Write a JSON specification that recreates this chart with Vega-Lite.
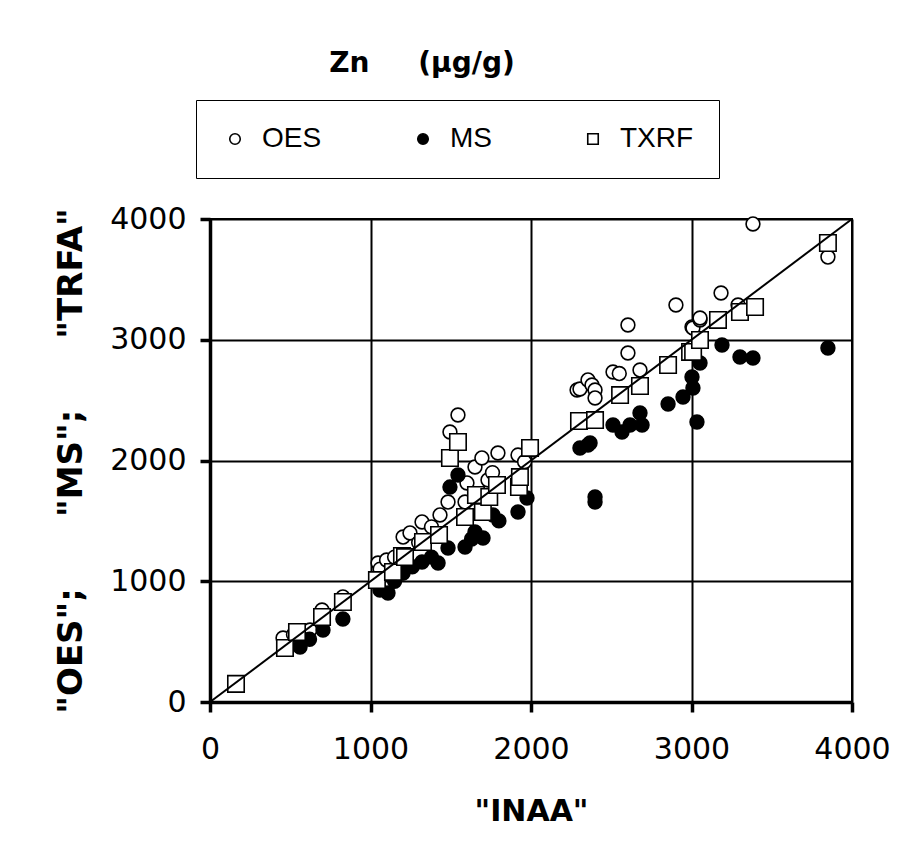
{
  "$schema": "https://vega.github.io/schema/vega-lite/v6.json",
  "width": 642,
  "height": 483,
  "autosize": {"type": "none"},
  "padding": {"left": 210, "top": 219, "right": 55, "bottom": 150},
  "background": "white",
  "title": {
    "text": "Zn\u00a0\u00a0\u00a0\u00a0\u00a0(µg/g)",
    "font": "DejaVu Sans",
    "fontSize": 28,
    "fontWeight": "bold",
    "color": "black",
    "anchor": "middle",
    "frame": "group",
    "dx": -109,
    "offset": 22
  },
  "config": {
    "view": {"stroke": "black", "strokeWidth": 2},
    "axis": {
      "domainColor": "black",
      "domainWidth": 3.5,
      "gridColor": "black",
      "gridWidth": 2,
      "gridOpacity": 1,
      "tickColor": "black",
      "tickWidth": 3.5,
      "tickSize": 10,
      "labelFont": "DejaVu Sans",
      "labelFontSize": 30,
      "labelColor": "black",
      "titleFont": "DejaVu Sans",
      "titleFontSize": 30,
      "titleFontWeight": "bold",
      "titleColor": "black"
    },
    "legend": {
      "orient": "none",
      "legendX": -14,
      "legendY": -119,
      "direction": "horizontal",
      "columns": 3,
      "gridAlign": "each",
      "columnPadding": 87,
      "padding": 25,
      "strokeColor": "black",
      "fillColor": "white",
      "labelFont": "Liberation Sans",
      "labelFontSize": 28,
      "labelColor": "black",
      "labelOffset": 13,
      "symbolSize": 110,
      "symbolStrokeColor": "black",
      "symbolStrokeWidth": 1.6,
      "symbolOpacity": 1
    }
  },
  "data": {
    "values": [
      {"m": "OES", "x": 455, "y": 530},
      {"m": "OES", "x": 520, "y": 560},
      {"m": "OES", "x": 560, "y": 540},
      {"m": "OES", "x": 623, "y": 596},
      {"m": "OES", "x": 698, "y": 762},
      {"m": "OES", "x": 828, "y": 870},
      {"m": "OES", "x": 1047, "y": 1151},
      {"m": "OES", "x": 1060, "y": 1100},
      {"m": "OES", "x": 1100, "y": 1176},
      {"m": "OES", "x": 1150, "y": 1200},
      {"m": "OES", "x": 1203, "y": 1366},
      {"m": "OES", "x": 1246, "y": 1400},
      {"m": "OES", "x": 1300, "y": 1320},
      {"m": "OES", "x": 1321, "y": 1491},
      {"m": "OES", "x": 1380, "y": 1450},
      {"m": "OES", "x": 1433, "y": 1549},
      {"m": "OES", "x": 1483, "y": 1656},
      {"m": "OES", "x": 1495, "y": 2236},
      {"m": "OES", "x": 1545, "y": 2377},
      {"m": "OES", "x": 1589, "y": 1656},
      {"m": "OES", "x": 1601, "y": 1814},
      {"m": "OES", "x": 1651, "y": 1946},
      {"m": "OES", "x": 1694, "y": 2021},
      {"m": "OES", "x": 1732, "y": 1839},
      {"m": "OES", "x": 1760, "y": 1900},
      {"m": "OES", "x": 1794, "y": 2062},
      {"m": "OES", "x": 1919, "y": 2045},
      {"m": "OES", "x": 1960, "y": 1990},
      {"m": "OES", "x": 2287, "y": 2584},
      {"m": "OES", "x": 2305, "y": 2592},
      {"m": "OES", "x": 2355, "y": 2667},
      {"m": "OES", "x": 2380, "y": 2625},
      {"m": "OES", "x": 2399, "y": 2584},
      {"m": "OES", "x": 2399, "y": 2518},
      {"m": "OES", "x": 2511, "y": 2733},
      {"m": "OES", "x": 2550, "y": 2720},
      {"m": "OES", "x": 2604, "y": 3122},
      {"m": "OES", "x": 2604, "y": 2890},
      {"m": "OES", "x": 2679, "y": 2749},
      {"m": "OES", "x": 2903, "y": 3288},
      {"m": "OES", "x": 3003, "y": 3106},
      {"m": "OES", "x": 3009, "y": 3097},
      {"m": "OES", "x": 3053, "y": 3164},
      {"m": "OES", "x": 3053, "y": 3180},
      {"m": "OES", "x": 3184, "y": 3387},
      {"m": "OES", "x": 3290, "y": 3288},
      {"m": "OES", "x": 3383, "y": 3959},
      {"m": "OES", "x": 3850, "y": 3685},
      {"m": "MS", "x": 561, "y": 455},
      {"m": "MS", "x": 620, "y": 520},
      {"m": "MS", "x": 704, "y": 596},
      {"m": "MS", "x": 828, "y": 687},
      {"m": "MS", "x": 1059, "y": 928},
      {"m": "MS", "x": 1109, "y": 903},
      {"m": "MS", "x": 1150, "y": 1000},
      {"m": "MS", "x": 1196, "y": 1068},
      {"m": "MS", "x": 1203, "y": 1068},
      {"m": "MS", "x": 1260, "y": 1120},
      {"m": "MS", "x": 1321, "y": 1159},
      {"m": "MS", "x": 1380, "y": 1200},
      {"m": "MS", "x": 1421, "y": 1151},
      {"m": "MS", "x": 1483, "y": 1275},
      {"m": "MS", "x": 1495, "y": 1780},
      {"m": "MS", "x": 1545, "y": 1880},
      {"m": "MS", "x": 1589, "y": 1284},
      {"m": "MS", "x": 1630, "y": 1350},
      {"m": "MS", "x": 1651, "y": 1408},
      {"m": "MS", "x": 1701, "y": 1358},
      {"m": "MS", "x": 1763, "y": 1549},
      {"m": "MS", "x": 1800, "y": 1500},
      {"m": "MS", "x": 1919, "y": 1573},
      {"m": "MS", "x": 1975, "y": 1689},
      {"m": "MS", "x": 2305, "y": 2104},
      {"m": "MS", "x": 2355, "y": 2128},
      {"m": "MS", "x": 2368, "y": 2145},
      {"m": "MS", "x": 2399, "y": 1698},
      {"m": "MS", "x": 2399, "y": 1656},
      {"m": "MS", "x": 2511, "y": 2294},
      {"m": "MS", "x": 2567, "y": 2236},
      {"m": "MS", "x": 2617, "y": 2294},
      {"m": "MS", "x": 2679, "y": 2393},
      {"m": "MS", "x": 2692, "y": 2294},
      {"m": "MS", "x": 2854, "y": 2468},
      {"m": "MS", "x": 2947, "y": 2526},
      {"m": "MS", "x": 3003, "y": 2691},
      {"m": "MS", "x": 3009, "y": 2600},
      {"m": "MS", "x": 3034, "y": 2319},
      {"m": "MS", "x": 3053, "y": 2807},
      {"m": "MS", "x": 3190, "y": 2956},
      {"m": "MS", "x": 3302, "y": 2857},
      {"m": "MS", "x": 3383, "y": 2849},
      {"m": "MS", "x": 3850, "y": 2932},
      {"m": "TXRF", "x": 162, "y": 150},
      {"m": "TXRF", "x": 467, "y": 447},
      {"m": "TXRF", "x": 542, "y": 580},
      {"m": "TXRF", "x": 698, "y": 704},
      {"m": "TXRF", "x": 828, "y": 828},
      {"m": "TXRF", "x": 1040, "y": 1010},
      {"m": "TXRF", "x": 1140, "y": 1077},
      {"m": "TXRF", "x": 1196, "y": 1209},
      {"m": "TXRF", "x": 1215, "y": 1200},
      {"m": "TXRF", "x": 1327, "y": 1325},
      {"m": "TXRF", "x": 1427, "y": 1383},
      {"m": "TXRF", "x": 1495, "y": 2021},
      {"m": "TXRF", "x": 1545, "y": 2153},
      {"m": "TXRF", "x": 1589, "y": 1532},
      {"m": "TXRF", "x": 1657, "y": 1714},
      {"m": "TXRF", "x": 1700, "y": 1573},
      {"m": "TXRF", "x": 1740, "y": 1698},
      {"m": "TXRF", "x": 1788, "y": 1797},
      {"m": "TXRF", "x": 1925, "y": 1780},
      {"m": "TXRF", "x": 1931, "y": 1863},
      {"m": "TXRF", "x": 1994, "y": 2104},
      {"m": "TXRF", "x": 2299, "y": 2327},
      {"m": "TXRF", "x": 2399, "y": 2335},
      {"m": "TXRF", "x": 2555, "y": 2542},
      {"m": "TXRF", "x": 2679, "y": 2617},
      {"m": "TXRF", "x": 2854, "y": 2791},
      {"m": "TXRF", "x": 2991, "y": 2899},
      {"m": "TXRF", "x": 3010, "y": 2899},
      {"m": "TXRF", "x": 3053, "y": 2998},
      {"m": "TXRF", "x": 3165, "y": 3164},
      {"m": "TXRF", "x": 3302, "y": 3230},
      {"m": "TXRF", "x": 3396, "y": 3271},
      {"m": "TXRF", "x": 3850, "y": 3801}
    ]
  },
  "encoding": {
    "x": {
      "field": "x", "type": "quantitative",
      "scale": {"domain": [0, 4000], "nice": false, "zero": false},
      "axis": {"values": [0, 1000, 2000, 3000, 4000], "format": "d", "title": "\"INAA\"", "labelPadding": 22, "titlePadding": 32, "labelFlush": false}
    },
    "y": {
      "field": "y", "type": "quantitative",
      "scale": {"domain": [0, 4000], "nice": false, "zero": false},
      "axis": {"values": [0, 1000, 2000, 3000, 4000], "format": "d", "title": "\"OES\";\u00a0\u00a0\u00a0\u00a0\u00a0\u00a0\"MS\";\u00a0\u00a0\u00a0\u00a0\u00a0\u00a0\"TRFA\"", "titleFontSize": 34, "labelPadding": 14, "titlePadding": 21, "labelFlush": false}
    },
    "shape": {
      "field": "m", "type": "nominal",
      "scale": {"domain": ["OES", "MS", "TXRF"], "range": ["circle", "circle", "square"]},
      "legend": {"title": null, "encode": {"symbols": {"update": {"stroke": {"value": "black"}, "strokeWidth": {"value": 1.6}}}}}
    },
    "color": {
      "field": "m", "type": "nominal",
      "scale": {"domain": ["OES", "MS", "TXRF"], "range": ["white", "black", "white"]},
      "legend": {"title": null, "encode": {"symbols": {"update": {"stroke": {"value": "black"}, "strokeWidth": {"value": 1.6}}}}}
    }
  },
  "layer": [
    {
      "transform": [{"filter": "datum.m != 'TXRF'"}],
      "mark": {"type": "point", "filled": true, "stroke": "black", "strokeWidth": 1.6, "opacity": 1, "size": 190}
    },
    {
      "transform": [{"filter": "datum.m == 'TXRF'"}],
      "mark": {"type": "point", "filled": true, "stroke": "black", "strokeWidth": 1.6, "opacity": 1, "size": 270}
    },
    {
      "data": {"values": [{"x": 0, "y": 0}, {"x": 4000, "y": 4000}]},
      "mark": {"type": "line", "color": "black", "strokeWidth": 2},
      "encoding": {
        "x": {"field": "x", "type": "quantitative"},
        "y": {"field": "y", "type": "quantitative"},
        "shape": null,
        "color": null
      }
    }
  ]
}
